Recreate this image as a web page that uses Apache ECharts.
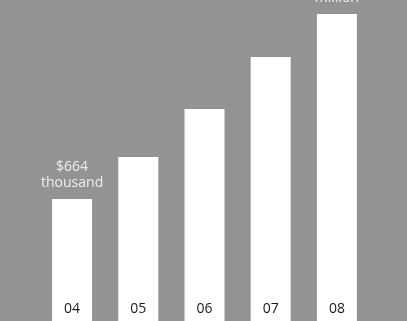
<!DOCTYPE html>
<html><head><meta charset="utf-8">
<script src="https://cdn.jsdelivr.net/npm/echarts@6/dist/echarts.min.js"></script>
<style>html,body{margin:0;padding:0;background:#939396;}#c{width:407px;height:321px;}</style>
</head><body><div id="c"></div>
<script>
const categories = ["04", "05", "06", "07", "08"];
const values = [664, 893, 1154, 1437, 1671];
const topLabels = ["$664\nthousand", "", "", "", "$1.7\nmillion"];

const chart = echarts.init(document.getElementById('c'));
chart.setOption({
  backgroundColor: '#939396',
  animation: false,
  grid: {left: 39, right: 37, top: 0, bottom: 0},
  xAxis: {
    type: 'category', data: categories,
    axisLine: {show: false}, axisTick: {show: false},
    axisLabel: {inside: true, margin: 5, color: '#1a1a1a', fontSize: 14, fontFamily: 'Open Sans'},
    z: 10
  },
  yAxis: {type: 'value', min: 0, max: 1747, show: false, splitLine: {show: false}},
  series: [{
    type: 'bar', data: values, barWidth: 40,
    itemStyle: {color: '#ffffff'},
    label: {
      show: true, position: 'top', distance: 8,
      formatter: p => topLabels[p.dataIndex],
      color: '#eeeeee', fontSize: 14, lineHeight: 16, fontFamily: 'Open Sans'
    }
  }]
});
</script></body></html>
